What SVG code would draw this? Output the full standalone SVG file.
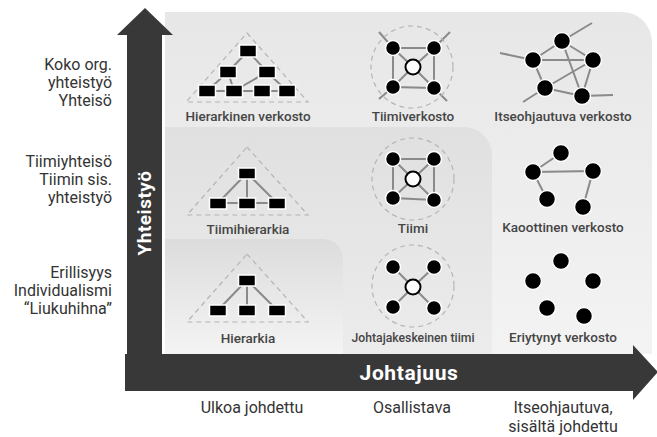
<svg xmlns="http://www.w3.org/2000/svg" width="657" height="437" viewBox="0 0 657 437">
  <defs>
    <linearGradient id="gOuter" x1="0" y1="0" x2="0" y2="1">
      <stop offset="0" stop-color="#e7e7e7"/>
      <stop offset="1" stop-color="#f3f3f3"/>
    </linearGradient>
    <linearGradient id="gMid" x1="0" y1="0" x2="0" y2="1">
      <stop offset="0" stop-color="#e0e0e0"/>
      <stop offset="1" stop-color="#ececec"/>
    </linearGradient>
    <linearGradient id="gInner" x1="0" y1="0" x2="0" y2="1">
      <stop offset="0" stop-color="#dcdcdc"/>
      <stop offset="1" stop-color="#f4f4f4"/>
    </linearGradient>
    <style>
      .axis { fill: #383838; }
      .guide { fill: none; stroke: #b4b4b4; stroke-width: 1.2; stroke-dasharray: 5 4; }
      .link { stroke: #8a8a8a; stroke-width: 2; fill: none; }
      .box { fill: #000; stroke: #fff; stroke-width: 1.5; }
      .dot { fill: #000; stroke: #fff; stroke-width: 1.5; }
      .hub { fill: #fff; stroke: #000; stroke-width: 2; }
      .lbl { font-family: Roboto, "Liberation Sans", sans-serif; font-weight: 500; font-size: 13.5px; fill: #454545; text-anchor: middle; }
      .side { font-family: Roboto, "Liberation Sans", sans-serif; font-size: 16px; fill: #333; text-anchor: end; }
      .foot { font-family: Roboto, "Liberation Sans", sans-serif; font-size: 16px; fill: #333; text-anchor: middle; }
      .axislbl { font-family: Roboto, "Liberation Sans", sans-serif; font-weight: 700; fill: #fff; text-anchor: middle; }
    </style>
  </defs>

  <rect width="657" height="437" fill="#fff"/>

  <!-- background bands -->
  <g id="bands">
    <path d="M165,12 H622 A30,30 0 0 1 652,42 V354 H165 Z" fill="url(#gOuter)"/>
    <path d="M165,127 H464 A28,28 0 0 1 492,155 V354 H165 Z" fill="url(#gMid)"/>
    <path d="M165,239 H323 A20,20 0 0 1 343,259 V354 H165 Z" fill="url(#gInner)"/>
  </g>

  <!-- axes -->
  <g id="axes">
    <rect class="axis" x="127" y="34" width="35" height="357"/>
    <polygon class="axis" points="145,8 173,35 117,35"/>
    <rect class="axis" x="125" y="354" width="510" height="37"/>
    <polygon class="axis" points="633,345 658,372 633,400"/>
    <text class="axislbl" font-size="19" letter-spacing="0.5" transform="translate(151,213) rotate(-90)">Yhteistyö</text>
    <text class="axislbl" font-size="21" letter-spacing="0.6" x="409" y="380">Johtajuus</text>
  </g>

  <!-- vertical axis levels -->
  <g id="levels">
    <text class="side" x="112" y="70">Koko org.</text>
    <text class="side" x="112" y="88">yhteistyö</text>
    <text class="side" x="112" y="106">Yhteisö</text>
    <text class="side" x="112" y="167">Tiimiyhteisö</text>
    <text class="side" x="112" y="185">Tiimin sis.</text>
    <text class="side" x="112" y="203">yhteistyö</text>
    <text class="side" x="112" y="278">Erillisyys</text>
    <text class="side" x="112" y="296">Individualismi</text>
    <text class="side" x="112" y="314">“Liukuhihna”</text>
  </g>

  <!-- horizontal axis levels -->
  <g id="steps">
    <text class="foot" x="252" y="413">Ulkoa johdettu</text>
    <text class="foot" x="412" y="413">Osallistava</text>
    <text class="foot" x="563" y="413">Itseohjautuva,</text>
    <text class="foot" x="563" y="432">sisältä johdettu</text>
  </g>

  <!-- connectors inside the structure icons -->
  <g id="connectors">
    <!-- hierarkinen verkosto -->
    <path class="link" d="M248,51 L228,72 M248,51 L267,72 M228,72 L207,91 M228,72 L234,91 M234,91 L267,72 M267,72 L287,91 M207,91 H287"/>
    <!-- tiimihierarkia -->
    <path class="link" d="M247,173 L218,203 M247,173 L247,203 M247,173 L277,203 M218,203 H277"/>
    <!-- hierarkia -->
    <path class="link" d="M247,280 L218,310 M247,280 L247,310 M247,280 L277,310"/>
    <!-- tiimiverkosto -->
    <path class="link" d="M393,48 H434 V88 L393,87 Z M393,48 L413,67 M434,48 L413,67 M393,87 L413,67 M434,88 L413,67 M393,48 L379,32 M434,48 L450,32 M393,87 L379,99 M434,88 L447,101"/>
    <!-- tiimi -->
    <path class="link" d="M393,159 H434 V200 L393,198 Z M393,159 L413,179 M434,159 L413,179 M393,198 L413,179 M434,200 L413,179"/>
    <!-- johtajakeskeinen tiimi -->
    <path class="link" d="M393,267 L413,287 M434,267 L413,287 M393,307 L413,287 M434,308 L413,287"/>
    <!-- itseohjautuva verkosto -->
    <path class="link" d="M562,41 L533,60 M562,41 L593,60 M562,41 L582,96 M533,60 H593 M533,60 L545,88 M545,88 L593,60 M545,88 L582,96 M593,60 L582,96 M562,41 L592,23 M533,60 L500,53 M545,88 L523,102 M582,96 L613,95"/>
    <!-- kaoottinen verkosto -->
    <path class="link" d="M561,153 L533,172 M533,172 L593,171 M533,172 L547,199 M593,171 L583,207"/>
  </g>

  <!-- structure icons -->
  <g id="hierarkinen-verkosto">
    <polygon class="guide" points="247,33 308,102 186,102"/>
    <rect class="box" x="239.5" y="45" width="17" height="12"/>
    <rect class="box" x="219.5" y="66" width="17" height="12"/>
    <rect class="box" x="258.5" y="66" width="17" height="12"/>
    <rect class="box" x="198.5" y="85" width="17" height="12"/>
    <rect class="box" x="225.5" y="85" width="17" height="12"/>
    <rect class="box" x="253.5" y="85" width="17" height="12"/>
    <rect class="box" x="278.5" y="85" width="17" height="12"/>
    <text class="lbl" x="248" y="121">Hierarkinen verkosto</text>
  </g>

  <g id="tiimiverkosto">
    <circle class="guide" cx="412" cy="67" r="41"/>
    <circle class="dot" cx="393" cy="48" r="7.5"/>
    <circle class="dot" cx="434" cy="48" r="7.5"/>
    <circle class="dot" cx="393" cy="87" r="7.5"/>
    <circle class="dot" cx="434" cy="88" r="7.5"/>
    <circle class="hub" cx="413" cy="67" r="7.5"/>
    <text class="lbl" x="413" y="121">Tiimiverkosto</text>
  </g>

  <g id="itseohjautuva-verkosto">
    <circle class="dot" cx="562" cy="41" r="8.5"/>
    <circle class="dot" cx="533" cy="60" r="8.5"/>
    <circle class="dot" cx="593" cy="60" r="8.5"/>
    <circle class="dot" cx="545" cy="88" r="8.5"/>
    <circle class="dot" cx="582" cy="96" r="8.5"/>
    <text class="lbl" x="563" y="121">Itseohjautuva verkosto</text>
  </g>

  <g id="tiimihierarkia">
    <polygon class="guide" points="247,147 308,215 187,215"/>
    <rect class="box" x="238.5" y="168" width="17" height="11"/>
    <rect class="box" x="209.5" y="198" width="17" height="11"/>
    <rect class="box" x="238.5" y="198" width="17" height="11"/>
    <rect class="box" x="268.5" y="198" width="17" height="11"/>
    <text class="lbl" x="248" y="234">Tiimihierarkia</text>
  </g>

  <g id="tiimi">
    <circle class="guide" cx="413" cy="179" r="41"/>
    <circle class="dot" cx="393" cy="159" r="7.5"/>
    <circle class="dot" cx="434" cy="159" r="7.5"/>
    <circle class="dot" cx="393" cy="198" r="7.5"/>
    <circle class="dot" cx="434" cy="200" r="7.5"/>
    <circle class="hub" cx="413" cy="179" r="7.5"/>
    <text class="lbl" x="413" y="233">Tiimi</text>
  </g>

  <g id="kaoottinen-verkosto">
    <circle class="dot" cx="561" cy="153" r="8.5"/>
    <circle class="dot" cx="533" cy="172" r="8.5"/>
    <circle class="dot" cx="593" cy="171" r="8.5"/>
    <circle class="dot" cx="547" cy="199" r="8.5"/>
    <circle class="dot" cx="583" cy="207" r="8.5"/>
    <text class="lbl" x="563" y="232">Kaoottinen verkosto</text>
  </g>

  <g id="hierarkia">
    <polygon class="guide" points="247,254 308,322 187,322"/>
    <rect class="box" x="238.5" y="275" width="17" height="11"/>
    <rect class="box" x="209.5" y="305" width="17" height="11"/>
    <rect class="box" x="238.5" y="305" width="17" height="11"/>
    <rect class="box" x="268.5" y="305" width="17" height="11"/>
    <text class="lbl" x="248" y="343">Hierarkia</text>
  </g>

  <g id="johtajakeskeinen-tiimi">
    <circle class="guide" cx="413" cy="286" r="41"/>
    <circle class="dot" cx="393" cy="267" r="7.5"/>
    <circle class="dot" cx="434" cy="267" r="7.5"/>
    <circle class="dot" cx="393" cy="307" r="7.5"/>
    <circle class="dot" cx="434" cy="308" r="7.5"/>
    <circle class="hub" cx="413" cy="287" r="7.5"/>
    <text class="lbl" x="413" y="342" textLength="123" lengthAdjust="spacingAndGlyphs">Johtajakeskeinen tiimi</text>
  </g>

  <g id="eriytynyt-verkosto">
    <circle class="dot" cx="561" cy="261" r="8.5"/>
    <circle class="dot" cx="533" cy="281" r="8.5"/>
    <circle class="dot" cx="593" cy="281" r="8.5"/>
    <circle class="dot" cx="547" cy="308" r="8.5"/>
    <circle class="dot" cx="584" cy="316" r="8.5"/>
    <text class="lbl" x="563" y="342">Eriytynyt verkosto</text>
  </g>
</svg>
